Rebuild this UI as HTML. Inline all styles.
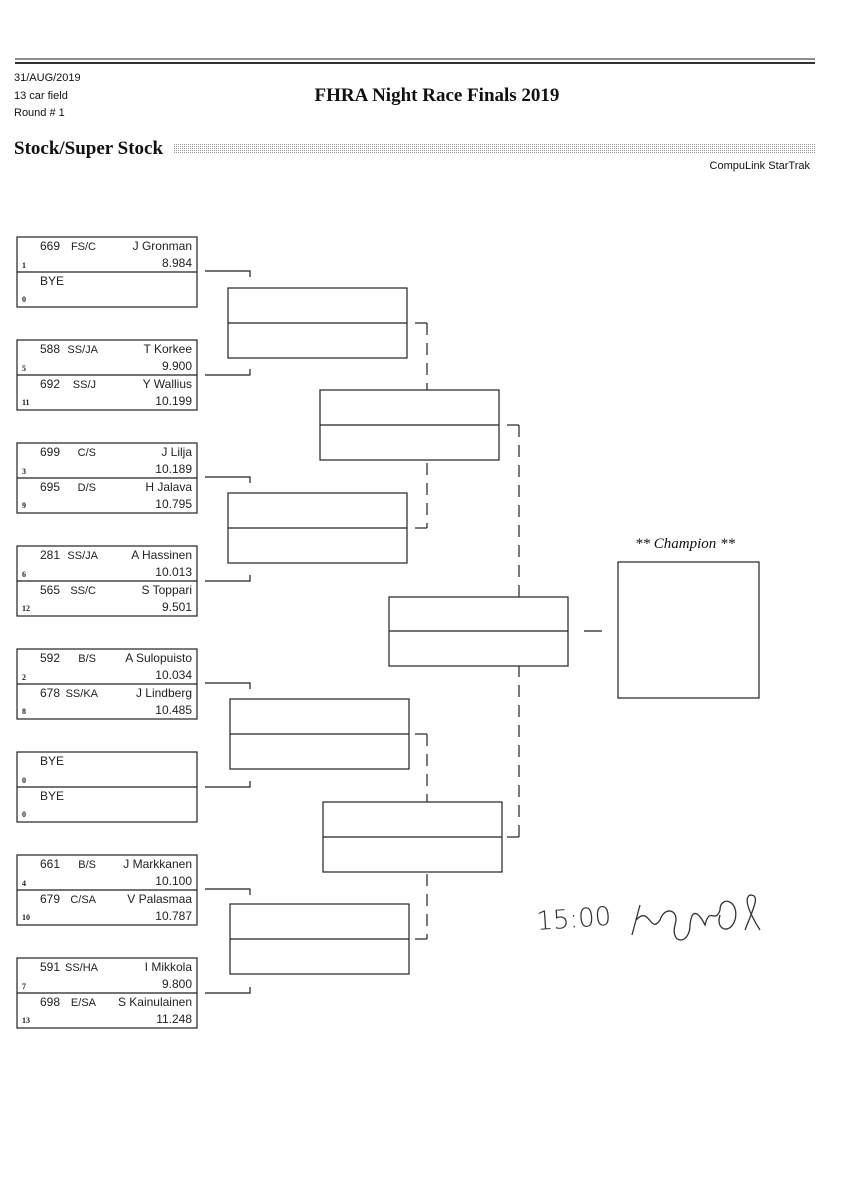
<!DOCTYPE html>
<html><head><meta charset="utf-8"><style>
html,body{margin:0;padding:0;background:#fff;}
svg{display:block}
.e{font-family:"Liberation Sans",sans-serif;font-size:12px;fill:#222}
.c{font-size:11px}
.s{font-family:"Liberation Serif",serif;font-size:8px;fill:#222;font-weight:bold}
.h{font-family:"Liberation Sans",sans-serif;font-size:11px;fill:#111}
</style></head><body>
<svg width="848" height="1200" viewBox="0 0 848 1200" xmlns="http://www.w3.org/2000/svg">
<defs><pattern id="dots" width="2" height="2" patternUnits="userSpaceOnUse"><rect width="1" height="1" fill="#999"/></pattern></defs>
<line x1="15" y1="59" x2="815" y2="59" stroke="#222" stroke-width="1"/>
<line x1="15" y1="63" x2="815" y2="63" stroke="#333" stroke-width="2"/>
<text class="h" x="14" y="81">31/AUG/2019</text>
<text class="h" x="14" y="99">13 car field</text>
<text class="h" x="14" y="116">Round # 1</text>
<text x="437" y="101" text-anchor="middle" font-family="Liberation Serif,serif" font-weight="bold" font-size="19" fill="#111">FHRA Night Race Finals 2019</text>
<text x="14" y="154" font-family="Liberation Serif,serif" font-weight="bold" font-size="19" fill="#111">Stock/Super Stock</text>
<rect x="173" y="143" width="642" height="11" fill="url(#dots)"/>
<text class="h" x="810" y="169" text-anchor="end">CompuLink StarTrak</text>

<g fill="none" stroke="#222" stroke-width="1.2">
<rect x="17" y="237" width="180" height="70"/><line x1="17" y1="272" x2="197" y2="272"/>
<rect x="17" y="340" width="180" height="70"/><line x1="17" y1="375" x2="197" y2="375"/>
<rect x="17" y="443" width="180" height="70"/><line x1="17" y1="478" x2="197" y2="478"/>
<rect x="17" y="546" width="180" height="70"/><line x1="17" y1="581" x2="197" y2="581"/>
<rect x="17" y="649" width="180" height="70"/><line x1="17" y1="684" x2="197" y2="684"/>
<rect x="17" y="752" width="180" height="70"/><line x1="17" y1="787" x2="197" y2="787"/>
<rect x="17" y="855" width="180" height="70"/><line x1="17" y1="890" x2="197" y2="890"/>
<rect x="17" y="958" width="180" height="70"/><line x1="17" y1="993" x2="197" y2="993"/>
<path d="M205 271H250V277"/><path d="M205 375H250V369"/>
<path d="M205 477H250V483"/><path d="M205 581H250V575"/>
<path d="M205 683H250V689"/><path d="M205 787H250V781"/>
<path d="M205 889H250V895"/><path d="M205 993H250V987"/>
<path d="M415 323H427"/><path d="M415 528H427"/>
<line x1="427" y1="323" x2="427" y2="528" stroke-dasharray="12 8"/>
<path d="M415 734H427"/><path d="M415 939H427"/>
<line x1="427" y1="734" x2="427" y2="939" stroke-dasharray="12 8"/>
<path d="M507 425H519"/><path d="M507 837H519"/>
<line x1="519" y1="425" x2="519" y2="837" stroke-dasharray="12 8"/>
<line x1="584" y1="631" x2="602" y2="631"/>
</g>
<g fill="#fff" stroke="#222" stroke-width="1.2">
<rect x="228" y="288" width="179" height="70"/><line x1="228" y1="323" x2="407" y2="323"/>
<rect x="228" y="493" width="179" height="70"/><line x1="228" y1="528" x2="407" y2="528"/>
<rect x="230" y="699" width="179" height="70"/><line x1="230" y1="734" x2="409" y2="734"/>
<rect x="230" y="904" width="179" height="70"/><line x1="230" y1="939" x2="409" y2="939"/>
<rect x="320" y="390" width="179" height="70"/><line x1="320" y1="425" x2="499" y2="425"/>
<rect x="323" y="802" width="179" height="70"/><line x1="323" y1="837" x2="502" y2="837"/>
<rect x="389" y="597" width="179" height="69"/><line x1="389" y1="631" x2="568" y2="631"/>
<rect x="618" y="562" width="141" height="136"/>
</g>
<text x="685" y="548" text-anchor="middle" font-family="Liberation Serif,serif" font-style="italic" font-size="15" fill="#111">** Champion **</text>

<g class="e">
<text x="40" y="250">669</text><text class="c" x="96" y="250" text-anchor="end">FS/C</text><text x="192" y="250" text-anchor="end">J Gronman</text><text x="192" y="267" text-anchor="end">8.984</text>
<text x="40" y="285">BYE</text>
<text x="40" y="353">588</text><text class="c" x="98" y="353" text-anchor="end">SS/JA</text><text x="192" y="353" text-anchor="end">T Korkee</text><text x="192" y="370" text-anchor="end">9.900</text>
<text x="40" y="388">692</text><text class="c" x="96" y="388" text-anchor="end">SS/J</text><text x="192" y="388" text-anchor="end">Y Wallius</text><text x="192" y="405" text-anchor="end">10.199</text>
<text x="40" y="456">699</text><text class="c" x="96" y="456" text-anchor="end">C/S</text><text x="192" y="456" text-anchor="end">J Lilja</text><text x="192" y="473" text-anchor="end">10.189</text>
<text x="40" y="491">695</text><text class="c" x="96" y="491" text-anchor="end">D/S</text><text x="192" y="491" text-anchor="end">H Jalava</text><text x="192" y="508" text-anchor="end">10.795</text>
<text x="40" y="559">281</text><text class="c" x="98" y="559" text-anchor="end">SS/JA</text><text x="192" y="559" text-anchor="end">A Hassinen</text><text x="192" y="576" text-anchor="end">10.013</text>
<text x="40" y="594">565</text><text class="c" x="96" y="594" text-anchor="end">SS/C</text><text x="192" y="594" text-anchor="end">S Toppari</text><text x="192" y="611" text-anchor="end">9.501</text>
<text x="40" y="662">592</text><text class="c" x="96" y="662" text-anchor="end">B/S</text><text x="192" y="662" text-anchor="end">A Sulopuisto</text><text x="192" y="679" text-anchor="end">10.034</text>
<text x="40" y="697">678</text><text class="c" x="98" y="697" text-anchor="end">SS/KA</text><text x="192" y="697" text-anchor="end">J Lindberg</text><text x="192" y="714" text-anchor="end">10.485</text>
<text x="40" y="765">BYE</text>
<text x="40" y="800">BYE</text>
<text x="40" y="868">661</text><text class="c" x="96" y="868" text-anchor="end">B/S</text><text x="192" y="868" text-anchor="end">J Markkanen</text><text x="192" y="885" text-anchor="end">10.100</text>
<text x="40" y="903">679</text><text class="c" x="96" y="903" text-anchor="end">C/SA</text><text x="192" y="903" text-anchor="end">V Palasmaa</text><text x="192" y="920" text-anchor="end">10.787</text>
<text x="40" y="971">591</text><text class="c" x="98" y="971" text-anchor="end">SS/HA</text><text x="192" y="971" text-anchor="end">I Mikkola</text><text x="192" y="988" text-anchor="end">9.800</text>
<text x="40" y="1006">698</text><text class="c" x="96" y="1006" text-anchor="end">E/SA</text><text x="192" y="1006" text-anchor="end">S Kainulainen</text><text x="192" y="1023" text-anchor="end">11.248</text>
</g>
<g class="s">
<text x="22" y="268">1</text><text x="22" y="302">0</text>
<text x="22" y="371">5</text><text x="22" y="405">11</text>
<text x="22" y="474">3</text><text x="22" y="508">9</text>
<text x="22" y="577">6</text><text x="22" y="611">12</text>
<text x="22" y="680">2</text><text x="22" y="714">8</text>
<text x="22" y="783">0</text><text x="22" y="817">0</text>
<text x="22" y="886">4</text><text x="22" y="920">10</text>
<text x="22" y="989">7</text><text x="22" y="1023">13</text>
</g>
<text x="537" y="930" font-family="DejaVu Sans,sans-serif" font-size="26" fill="#333" transform="rotate(-4 537 930)" font-weight="100">15:00</text>
<path d="M640 905 L632 935 M636 920 C650 905 650 935 660 920 C665 905 680 910 675 925 C670 945 690 945 690 925 C692 905 700 915 705 925 C710 905 715 925 720 910 C720 895 740 900 735 920 C730 935 715 930 720 915 M745 930 C755 905 760 895 750 895 C740 900 760 930 760 930" fill="none" stroke="#333" stroke-width="1.3"/>
</svg>
</body></html>
